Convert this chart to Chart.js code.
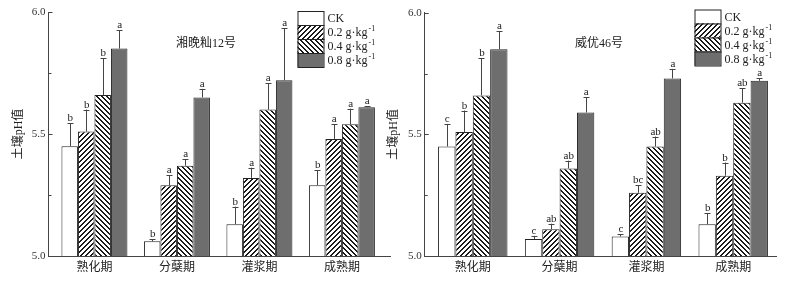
<!DOCTYPE html>
<html>
<head>
<meta charset="utf-8">
<script src="https://cdn.jsdelivr.net/npm/chart.js@4.4.0/dist/chart.umd.min.js"></script>
<style>
  body { margin: 0; background: #fff; width: 812px; height: 284px; position: relative; overflow: hidden; }
  #c1 { position: absolute; left: 0; top: 0; }
  #c2 { position: absolute; left: 380px; top: 0; }
</style>
</head>
<body>
<canvas id="c1" width="400" height="284"></canvas>
<canvas id="c2" width="432" height="284"></canvas>
<script>
// growth stages (x categories) and treatments (series)
const stages = ['熟化期', '分蘖期', '灌浆期', '成熟期'];
const treatments = ['CK', '0.2 g·kg', '0.4 g·kg', '0.8 g·kg'];
const treatmentSup = ['', '-1', '-1', '-1'];
const yTicks = [5.0, 5.5, 6.0];

// 湘晚籼12号
const xw_ck = [5.45, 5.06, 5.13, 5.29];
const xw_02 = [5.51, 5.29, 5.32, 5.48];
const xw_04 = [5.66, 5.37, 5.60, 5.54];
const xw_08 = [5.85, 5.65, 5.72, 5.61];
const xw_ck_err = [0.094, 0.008, 0.072, 0.062];
const xw_02_err = [0.090, 0.040, 0.042, 0.059];
const xw_04_err = [0.150, 0.027, 0.108, 0.064];
const xw_08_err = [0.075, 0.035, 0.213, 0.004];
const xw_ck_sig = ['b', 'b', 'b', 'b'];
const xw_02_sig = ['b', 'a', 'a', 'a'];
const xw_04_sig = ['b', 'a', 'a', 'a'];
const xw_08_sig = ['a', 'a', 'a', 'a'];

// 威优46号
const wy_ck = [5.45, 5.07, 5.08, 5.13];
const wy_02 = [5.51, 5.11, 5.26, 5.33];
const wy_04 = [5.66, 5.36, 5.45, 5.63];
const wy_08 = [5.85, 5.59, 5.73, 5.72];
const wy_ck_err = [0.093, 0.013, 0.009, 0.045];
const wy_02_err = [0.088, 0.023, 0.031, 0.054];
const wy_04_err = [0.154, 0.032, 0.041, 0.060];
const wy_08_err = [0.075, 0.063, 0.039, 0.010];
const wy_ck_sig = ['c', 'c', 'c', 'b'];
const wy_02_sig = ['b', 'ab', 'bc', 'b'];
const wy_04_sig = ['b', 'ab', 'ab', 'ab'];
const wy_08_sig = ['a', 'a', 'a', 'a'];

const SERIF = '"Liberation Serif", "Noto Sans CJK SC", serif';
const CJK = '"Noto Sans CJK SC", sans-serif';
Chart.defaults.font.family = SERIF;
Chart.defaults.color = '#222';

// hatch fill, dir 1 = "/", dir -1 = "\"
function hatch(dir) {
    const s = 5;
    const c = document.createElement('canvas');
    c.width = s; c.height = s;
    const g = c.getContext('2d');
    g.fillStyle = '#fff';
    g.fillRect(0, 0, s, s);
    g.fillStyle = '#1a1a1a';
    for (let y = 0; y < s; y++) {
        for (let x = 0; x < s; x++) {
            const k = dir > 0 ? (x + y) % s : ((x - y) % s + s) % s;
            if (k < 2) g.fillRect(x, y, 1, 1);
        }
    }
    return g.createPattern(c, 'repeat');
}

const fills = ['#ffffff', hatch(1), hatch(-1), '#6e6e6e'];

function toPoints(vals) {
    return vals.map((v, i) => ({ x: i, y: v }));
}

// error bars, letters, inward ticks, title and legend
const decorPlugin = {
    id: 'decor',
    afterDatasetsDraw(chart) {
        const ctx = chart.ctx;
        const yScale = chart.scales.y;
        ctx.save();
        chart.data.datasets.forEach((ds, di) => {
            const meta = chart.getDatasetMeta(di);
            meta.data.forEach((bar, j) => {
                const top = yScale.getPixelForValue(ds.data[j].y);
                const et = yScale.getPixelForValue(ds.data[j].y + ds.err[j]);
                ctx.strokeStyle = '#444';
                ctx.lineWidth = 1;
                ctx.beginPath();
                ctx.moveTo(Math.round(bar.x) + 0.5, top);
                ctx.lineTo(Math.round(bar.x) + 0.5, et);
                ctx.moveTo(Math.round(bar.x) - 2.5, Math.round(et) + 0.5);
                ctx.lineTo(Math.round(bar.x) + 3.5, Math.round(et) + 0.5);
                ctx.stroke();
                ctx.fillStyle = '#222';
                ctx.font = '11px ' + SERIF;
                ctx.textAlign = 'center';
                ctx.textBaseline = 'alphabetic';
                ctx.fillText(ds.sig[j], bar.x + 0.5, et - 2);
            });
        });
        ctx.restore();
    },
    afterDraw(chart) {
        const ctx = chart.ctx;
        const area = chart.chartArea;
        const yScale = chart.scales.y;
        const o = chart.options.plugins.decor;
        ctx.save();
        // inward y ticks
        ctx.strokeStyle = '#444';
        ctx.lineWidth = 1;
        ctx.beginPath();
        yScale.ticks.forEach(t => {
            const py = Math.round(yScale.getPixelForValue(t.value)) + 0.5;
            const len = Math.abs(t.value * 2 - Math.round(t.value * 2)) < 1e-6 ? 4 : 3;
            ctx.moveTo(area.left, py);
            ctx.lineTo(area.left + len, py);
        });
        ctx.stroke();
        // panel title
        ctx.fillStyle = '#222';
        ctx.font = '12px ' + SERIF;
        ctx.textAlign = 'center';
        ctx.textBaseline = 'middle';
        ctx.fillText(o.title, o.titleX, o.titleY);
        // legend
        const rowH = 14, boxW = 26;
        treatments.forEach((name, i) => {
            const y0 = o.legY + i * rowH;
            ctx.fillStyle = fills[i];
            ctx.fillRect(o.legX, y0, boxW, rowH);
            ctx.strokeStyle = '#222';
            ctx.strokeRect(o.legX + 0.5, y0 + 0.5, boxW, rowH);
            ctx.fillStyle = '#222';
            ctx.font = '12px ' + SERIF;
            ctx.textAlign = 'left';
            ctx.textBaseline = 'middle';
            const tx = o.legX + boxW + 4;
            ctx.fillText(name, tx, y0 + rowH / 2 + 1);
            if (treatmentSup[i]) {
                const w = ctx.measureText(name).width;
                ctx.font = '8px ' + SERIF;
                ctx.fillText(treatmentSup[i], tx + w + 1, y0 + rowH / 2 - 3);
            }
        });
        ctx.restore();
    }
};

function makeChart(id, series, errs, sigs, panel) {
    return new Chart(document.getElementById(id), {
        type: 'bar',
        data: {
            datasets: series.map((vals, i) => ({
                label: treatments[i],
                data: toPoints(vals),
                err: errs[i],
                sig: sigs[i],
                backgroundColor: fills[i],
                borderColor: '#222',
                borderWidth: 1,
                borderSkipped: false,
                categoryPercentage: 0.8,
                barPercentage: 1.0
            }))
        },
        options: {
            responsive: false,
            animation: false,
            layout: { padding: { left: panel.padLeft, right: panel.padRight, top: panel.padTop, bottom: 0 } },
            plugins: {
                legend: { display: false },
                tooltip: { enabled: false },
                decor: panel
            },
            scales: {
                x: {
                    type: 'linear',
                    offset: false,
                    min: panel.xMin,
                    max: panel.xMax,
                    grid: { display: false, drawTicks: false, offset: false },
                    border: { display: true, color: '#444', width: 1 },
                    ticks: {
                        stepSize: 1,
                        includeBounds: false,
                        autoSkip: false,
                        maxRotation: 0,
                        padding: 3,
                        color: '#222',
                        font: { family: CJK, size: 12 },
                        callback: v => (Number.isInteger(v) && stages[v]) ? stages[v] : ''
                    },
                    afterFit: s => { s.height = 28; }
                },
                y: {
                    min: 5.0,
                    max: 6.0,
                    grid: { display: false, drawTicks: false },
                    border: { display: true, color: '#444', width: 1 },
                    ticks: {
                        stepSize: 0.25,
                        padding: 3,
                        color: '#333',
                        font: { family: SERIF, size: 11 },
                        callback: v => yTicks.some(t => Math.abs(t - v) < 1e-6) ? v.toFixed(1) : ''
                    },
                    title: {
                        display: true,
                        text: '土壤pH值',
                        padding: 0,
                        color: '#222',
                        font: { family: SERIF, size: 12 }
                    },
                    afterFit: s => { s.width = panel.yWidth; }
                }
            }
        },
        plugins: [decorPlugin]
    });
}

makeChart('c1',
    [xw_ck, xw_02, xw_04, xw_08],
    [xw_ck_err, xw_02_err, xw_04_err, xw_08_err],
    [xw_ck_sig, xw_02_sig, xw_04_sig, xw_08_sig],
    { padLeft: 11.6, padRight: 10, padTop: 12, yWidth: 36.9, xMin: -0.557, xMax: 3.583,
      title: '湘晚籼12号', titleX: 206, titleY: 44, legX: 297.5, legY: 11 });

makeChart('c2',
    [wy_ck, wy_02, wy_04, wy_08],
    [wy_ck_err, wy_02_err, wy_04_err, wy_08_err],
    [wy_ck_sig, wy_02_sig, wy_04_sig, wy_08_sig],
    { padLeft: 7, padRight: 35.3, padTop: 12.7, yWidth: 37.7, xMin: -0.554, xMax: 3.501,
      title: '威优46号', titleX: 219, titleY: 44, legX: 314.5, legY: 9.5 });
</script>
</body>
</html>
